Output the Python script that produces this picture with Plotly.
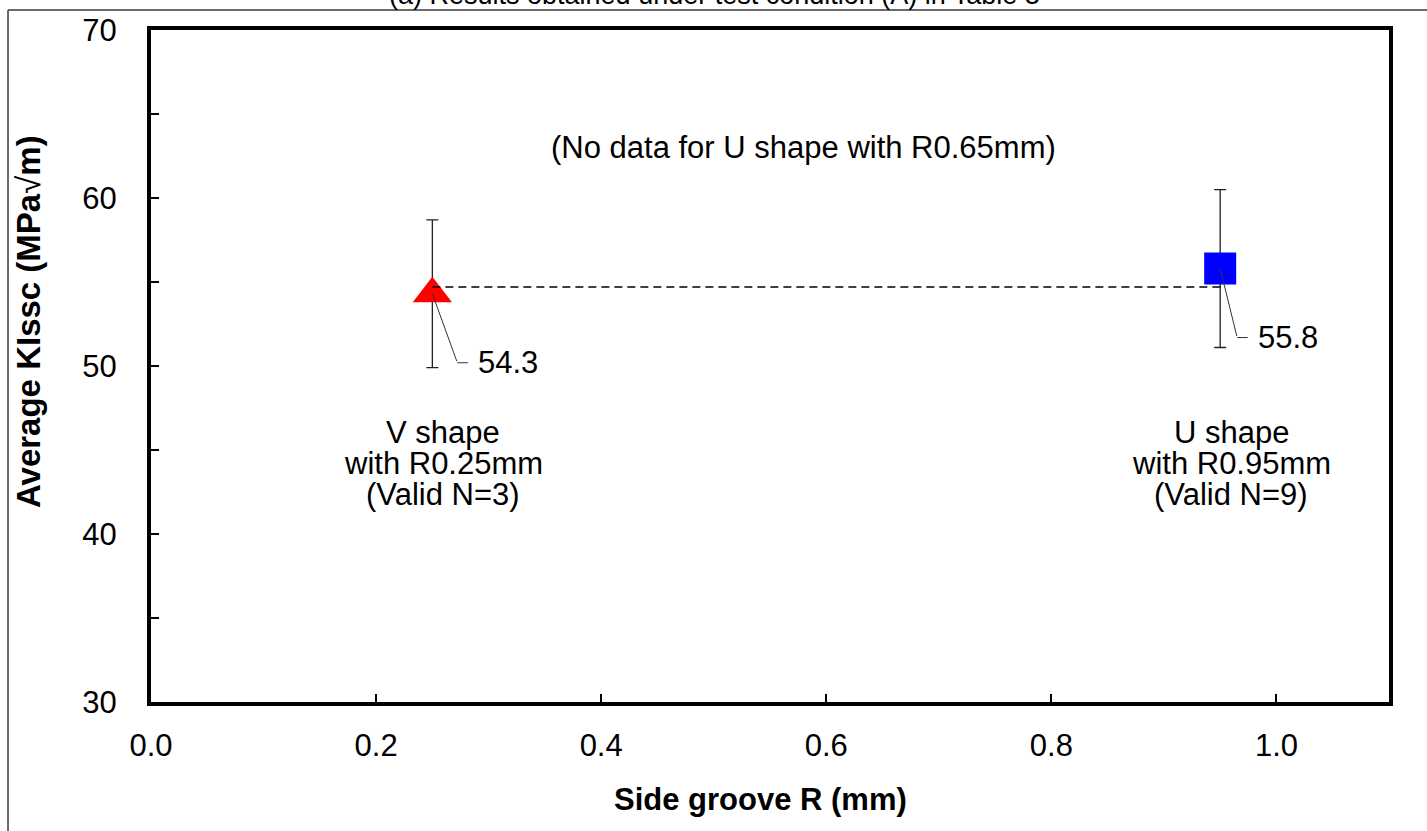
import plotly.graph_objects as go

# ---- data ----
groove_r = [0.25, 0.95]            # side groove radius (mm)
avg_klssc = [54.3, 55.8]           # average KIssc (MPa*sqrt(m))
err_klssc = [4.4, 4.7]             # error bar half-range
overall_level = 54.7               # dashed reference level
value_labels = ["54.3", "55.8"]
shape_labels = [
    ["V shape", "with R0.25mm", "(Valid N=3)"],
    ["U shape", "with R0.95mm", "(Valid N=9)"],
]
note_text = "(No data for U shape with R0.65mm)"
title_text = "(a) Results obtained under test condition (A) in Table 3"
x_title = "Side groove R (mm)"
y_title = "Average KIssc (MPa<span style='font-weight:normal'>√</span>m)"

FONT = "Liberation Sans, Arial, sans-serif"

fig = go.Figure()

# markers with error bars
fig.add_trace(go.Scatter(
    x=[groove_r[0]], y=[avg_klssc[0]], mode="markers",
    marker=dict(symbol="triangle-up", size=34, color="#ff0000"),
    error_y=dict(type="data", array=[err_klssc[0]], color="#222222",
                 thickness=1.3, width=6),
    showlegend=False, hoverinfo="skip"))
fig.add_trace(go.Scatter(
    x=[groove_r[1]], y=[avg_klssc[1]], mode="markers",
    marker=dict(symbol="square", size=32, color="#0000ff"),
    error_y=dict(type="data", array=[err_klssc[1]], color="#222222",
                 thickness=1.3, width=6),
    showlegend=False, hoverinfo="skip"))

# dashed level line
fig.add_trace(go.Scatter(
    x=groove_r, y=[overall_level, overall_level], mode="lines",
    line=dict(color="#000000", width=1.6, dash="8px,5px"),
    showlegend=False, hoverinfo="skip"))

annotations = []

# value labels with elbow leaders
leader_dx = [25, 17]
leader_dy = 69
for xv, yv, lab, dx in zip(groove_r, avg_klssc, value_labels, leader_dx):
    annotations.append(dict(
        x=xv, y=yv, xref="x", yref="y", text="", showarrow=True,
        arrowhead=0, arrowwidth=1, arrowcolor="#333333",
        ax=dx, ay=leader_dy))
    annotations.append(dict(
        x=xv, y=yv, xref="x", yref="y", xshift=dx, yshift=-leader_dy,
        text=lab, showarrow=True, arrowhead=0, arrowwidth=1,
        arrowcolor="#333333", ax=51, ay=0, startstandoff=9,
        font=dict(family=FONT, size=31, color="#000000")))

# shape labels (three lines each)
label_center_y = 44.2
line_gap = 31
for xv, lines in zip(groove_r, shape_labels):
    for i, ln in enumerate(lines):
        annotations.append(dict(
            x=xv, y=label_center_y, xref="x", yref="y",
            xshift=11, yshift=line_gap * (1 - i),
            text=ln, showarrow=False, xanchor="center", yanchor="middle",
            font=dict(family=FONT, size=31, color="#000000")))

# note
annotations.append(dict(
    x=0.58, y=63.0, xref="x", yref="y", text=note_text, showarrow=False,
    xanchor="center", yanchor="middle",
    font=dict(family=FONT, size=31, color="#000000")))

# title (cut at the top of the picture)
annotations.append(dict(
    x=0.455, y=1.0275, xref="paper", yref="paper", text=title_text,
    showarrow=False, xanchor="center", yanchor="bottom",
    font=dict(family=FONT, size=27, color="#000000")))

# axis titles
annotations.append(dict(
    x=0.492, y=-0.1458, xref="paper", yref="paper", text="<b>" + x_title + "</b>",
    showarrow=False, xanchor="center", yanchor="middle",
    font=dict(family=FONT, size=31, color="#000000")))
annotations.append(dict(
    x=-0.0985, y=0.5655, xref="paper", yref="paper", text="<b>" + y_title + "</b>",
    showarrow=False, xanchor="center", yanchor="middle", textangle=-90,
    font=dict(family=FONT, size=33, color="#000000")))

# outer frame lines (chart area border, cropped)
shapes = [
    dict(type="line", xref="paper", yref="paper", x0=-0.1155, x1=-0.1155,
         y0=-0.2, y1=1.0298, line=dict(color="#3a3a3a", width=1.5)),
    dict(type="line", xref="paper", yref="paper", x0=-0.1155, x1=1.05,
         y0=1.0298, y1=1.0298, line=dict(color="#3a3a3a", width=1.5)),
]

fig.update_layout(
    width=1427, height=831,
    margin=dict(l=151, r=38, t=30, b=129),
    paper_bgcolor="white", plot_bgcolor="white",
    font=dict(family=FONT, size=30, color="#000000"),
    annotations=annotations, shapes=shapes,
    showlegend=False,
)
fig.update_xaxes(
    range=[0, 1.1], dtick=0.2, tick0=0, tickformat=".1f",
    showgrid=False, zeroline=False,
    showline=True, linecolor="#000000", linewidth=4, mirror=True,
    ticks="inside", ticklen=8, tickwidth=2, tickcolor="#000000",
    ticklabelstandoff=13,
    tickfont=dict(family=FONT, size=31, color="#000000"))
fig.update_yaxes(
    range=[30, 70], dtick=10, tick0=30,
    showgrid=False, zeroline=False,
    showline=True, linecolor="#000000", linewidth=4, mirror=True,
    ticks="inside", ticklen=8, tickwidth=2, tickcolor="#000000",
    minor=dict(dtick=5, ticks="inside", ticklen=8, tickwidth=2, tickcolor="#000000",
               showgrid=False),
    ticklabelstandoff=24,
    tickfont=dict(family=FONT, size=31, color="#000000"))

fig.write_html("out.html")
